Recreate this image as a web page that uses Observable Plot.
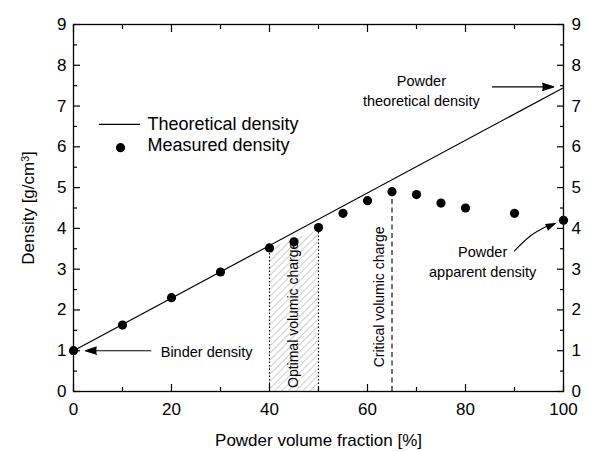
<!DOCTYPE html>
<html><head><meta charset="utf-8">
<script src="https://cdn.jsdelivr.net/npm/d3@7"></script>
<script src="https://cdn.jsdelivr.net/npm/@observablehq/plot@0.6"></script>
<style>
body{margin:0;background:#fff}
svg{font-family:"Liberation Sans",Arial,sans-serif}
</style>
</head><body><div id="chart"></div>
<script>
// Measured density vs powder volume fraction
const fraction = [0, 10, 20, 30, 40, 45, 50, 55, 60, 65, 70, 75, 80, 90, 100];
const measured = [1.0, 1.63, 2.3, 2.93, 3.52, 3.67, 4.02, 4.37, 4.68, 4.9, 4.83, 4.62, 4.5, 4.37, 4.2];
// Theoretical density (straight line binder -> powder)
const theoFraction = [0, 100];
const theoDensity = [1.0, 7.45];
// Optimal volumic charge band
const optimalFraction = [40, 50];
const optimalTop = [3.5, 3.95];
const optimalLineTop = [3.52, 4.02];
// Critical volumic charge
const criticalFraction = [65];
const criticalTop = [4.9];
// ticks
const xTicks = [0, 20, 40, 60, 80, 100];
const xMinor = [10, 30, 50, 70, 90];
const yTicks = [0, 1, 2, 3, 4, 5, 6, 7, 8, 9];
const yMinor = [0.5, 1.5, 2.5, 3.5, 4.5, 5.5, 6.5, 7.5, 8.5];
// curved annotation arrow path (apparent density)
const curveX = [90.0, 93.3, 96.6];
const curveY = [3.45, 3.82, 4.05];

const points = fraction.map((f, i) => ({f, d: measured[i]}));
const theo = theoFraction.map((f, i) => ({f, d: theoDensity[i]}));
const band = optimalFraction.map((f, i) => ({f, top: optimalTop[i]}));
const bandLines = optimalFraction.map((f, i) => ({f, top: optimalLineTop[i]}));
const critical = criticalFraction.map((f, i) => ({f, top: criticalTop[i]}));
const curve = curveX.map((x, i) => ({x, y: curveY[i]}));

const font = "'Liberation Sans', Arial, sans-serif";
const head = {headLength: 16, headAngle: 36, strokeWidth: 1.1};

const plot = Plot.plot({
  width: 597,
  height: 451,
  marginLeft: 73,
  marginRight: 34,
  marginTop: 24,
  marginBottom: 60,
  style: {fontFamily: font, background: "#fff", color: "#000"},
  x: {domain: [0, 100]},
  y: {domain: [0, 9]},
  marks: [
    // hatched optimal band
    Plot.areaY(band, {x: "f", y1: 0, y2: "top", fill: "url(#hatch)"}),
    Plot.ruleX(bandLines, {x: "f", y1: 0, y2: "top", stroke: "#000", strokeWidth: 1.1, strokeDasharray: "1.5,2"}),
    Plot.ruleX(critical, {x: "f", y1: 0, y2: "top", stroke: "#000", strokeWidth: 1.1, strokeDasharray: "5,3.5"}),
    Plot.text(["Optimal volumic charge"], {x: 45, y: 1.88, rotate: -90, fontSize: "14px", fill: "#000"}),
    Plot.text(["Critical volumic charge"], {x: 62.4, y: 2.32, rotate: -90, fontSize: "14px", fill: "#000"}),
    // theoretical line
    Plot.line(theo, {x: "f", y: "d", stroke: "#000", strokeWidth: 1.2}),
    // measured dots
    Plot.dot(points, {x: "f", y: "d", r: 4.6, fill: "#000"}),
    // frame and axes
    Plot.frame({stroke: "#000", strokeWidth: 1.3}),
    Plot.axisX(xTicks, {anchor: "bottom", tickSize: 0, tickPadding: 11, fontSize: "17px", label: null}),
    Plot.axisX(xTicks, {anchor: "bottom", tickSize: -7, tickFormat: () => "", label: null, strokeWidth: 1.2}),
    Plot.axisX(xMinor, {anchor: "bottom", tickSize: -4, tickFormat: () => "", label: null, strokeWidth: 1.2}),
    Plot.axisX(xTicks, {anchor: "top", tickSize: -7, tickFormat: () => "", label: null, strokeWidth: 1.2}),
    Plot.axisX(xMinor, {anchor: "top", tickSize: -4, tickFormat: () => "", label: null, strokeWidth: 1.2}),
    Plot.axisY(yTicks, {anchor: "left", tickSize: 0, tickPadding: 7, fontSize: "17px", label: null}),
    Plot.axisY(yTicks, {anchor: "right", tickSize: 0, tickPadding: 8, fontSize: "17px", label: null}),
    Plot.axisY(yTicks, {anchor: "left", tickSize: -7, tickFormat: () => "", label: null, strokeWidth: 1.2}),
    Plot.axisY(yMinor, {anchor: "left", tickSize: -4, tickFormat: () => "", label: null, strokeWidth: 1.2}),
    Plot.axisY(yTicks, {anchor: "right", tickSize: -7, tickFormat: () => "", label: null, strokeWidth: 1.2}),
    Plot.axisY(yMinor, {anchor: "right", tickSize: -4, tickFormat: () => "", label: null, strokeWidth: 1.2}),
    // axis titles
    Plot.text(["Powder volume fraction [%]"], {frameAnchor: "bottom", dy: 54, fontSize: "17px", fill: "#000"}),
    Plot.text(["Density [g/cm3]"], {frameAnchor: "left", dx: -45, rotate: -90, textAnchor: "middle", fontSize: "17px", fill: "#000", className: "ylabel"}),
    // legend
    Plot.ruleY([6.55], {x1: 5.3, x2: 13.7, stroke: "#000", strokeWidth: 1.2}),
    Plot.dot([5.98], {x: 9.6, y: d => d, r: 4.6, fill: "#000"}),
    Plot.text(["Theoretical density"], {x: 15.1, y: 6.55, textAnchor: "start", fontSize: "18px", fill: "#000"}),
    Plot.text(["Measured density"], {x: 15.1, y: 6.03, textAnchor: "start", fontSize: "18px", fill: "#000"}),
    // annotations
    Plot.arrow([0], {x1: 15.8, y1: 1.0, x2: 2.4, y2: 1.0, stroke: "#000", fill: "#000", ...head}),
    Plot.text(["Binder density"], {x: 17.8, y: 0.97, textAnchor: "start", fontSize: "14.5px", fill: "#000"}),
    Plot.arrow([0], {x1: 85.5, y1: 7.47, x2: 98.0, y2: 7.47, stroke: "#000", fill: "#000", ...head}),
    Plot.text(["Powder\ntheoretical density"], {x: 71, y: 7.4, fontSize: "14.5px", lineHeight: 1.35, fill: "#000"}),
    Plot.line(curve, {x: "x", y: "y", curve: "catmull-rom", stroke: "#000", strokeWidth: 1.1}),
    Plot.arrow([0], {x1: 91.2, y1: 3.726, x2: 98.6, y2: 4.14, stroke: "none", fill: "#000", ...head}),
    Plot.text(["Powder\napparent density"], {x: 83.5, y: 3.2, fontSize: "14.5px", lineHeight: 1.35, fill: "#000"})
  ]
});

// hatch pattern
const svg = d3.select(plot);
const defs = svg.insert("defs", ":first-child");
const pat = defs.append("pattern")
  .attr("id", "hatch").attr("patternUnits", "userSpaceOnUse")
  .attr("width", 5).attr("height", 5)
  .attr("patternTransform", "rotate(45)");
pat.append("line").attr("x1", 0).attr("y1", 0).attr("x2", 0).attr("y2", 5)
  .attr("stroke", "#888").attr("stroke-width", 0.8);

// superscript in y label
svg.selectAll("g.ylabel text, .ylabel text").each(function() {
  const t = d3.select(this);
  if (t.text() === "Density [g/cm3]") {
    t.text(null);
    t.append("tspan").text("Density [g/cm");
    t.append("tspan").attr("dy", "-0.45em").attr("font-size", "0.62em").text("3");
    t.append("tspan").attr("dy", "0.28em").text("]");
  }
});

document.getElementById("chart").appendChild(plot);
</script>
</body></html>
